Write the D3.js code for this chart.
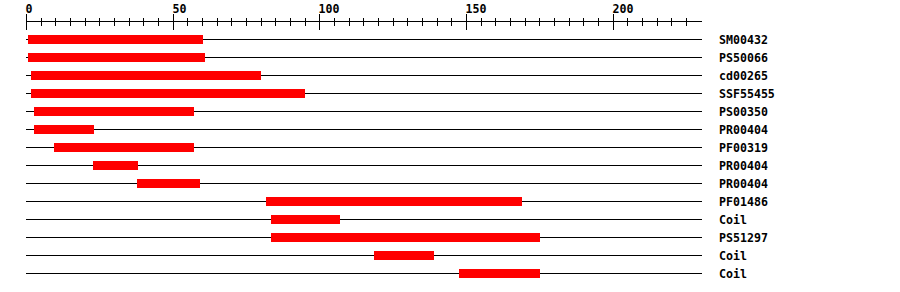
<!DOCTYPE html>
<html>
<head>
<meta charset="utf-8">
<script src="https://cdn.jsdelivr.net/npm/d3@7/dist/d3.min.js"></script>
<style>
  html, body { margin: 0; padding: 0; background: #fff; }
  svg { display: block; }
  text { font-family: "DejaVu Sans Mono", "Liberation Mono", monospace; font-weight: bold; font-size: 11.6px; fill: #000; }
</style>
</head>
<body>
<svg id="chart" width="900" height="292"></svg>
<script>
const labels = ["SM00432","PS50066","cd00265","SSF55455","PS00350","PR00404","PF00319","PR00404","PR00404","PF01486","Coil","PS51297","Coil","Coil"];
const starts = [1, 1, 2, 2, 3, 3, 10, 23, 38, 82, 84, 84, 119, 148];
const ends   = [60, 61, 80, 95, 57, 23, 57, 38, 59, 169, 107, 175, 139, 175];
const seqLength = 230;
const majorTicks = [0, 50, 100, 150, 200];
const minorStep = 5;

const svg = d3.select("#chart");
const x = d3.scaleLinear().domain([0, seqLength]).range([26.6, 701]);
const rowIndex = d3.range(labels.length);
const y = d3.scalePoint().domain(rowIndex).range([39.5, 273.5]);

// axis
const axisY = 21.5;
const g = svg.append("g").attr("shape-rendering", "crispEdges");
g.append("line").attr("x1", x(0) - 0.5).attr("x2", x(seqLength) + 0.5)
  .attr("y1", axisY).attr("y2", axisY).attr("stroke", "#000").attr("stroke-width", 1);
const minor = d3.range(0, seqLength, minorStep).filter(v => !majorTicks.includes(v));
g.selectAll("line.minor").data(minor).join("line").attr("class", "minor")
  .attr("x1", d => Math.floor(x(d)) + 0.5).attr("x2", d => Math.floor(x(d)) + 0.5)
  .attr("y1", axisY - 4).attr("y2", axisY + 4).attr("stroke", "#000");
g.selectAll("line.major").data(majorTicks).join("line").attr("class", "major")
  .attr("x1", d => Math.floor(x(d)) + 0.5).attr("x2", d => Math.floor(x(d)) + 0.5)
  .attr("y1", axisY - 8).attr("y2", axisY + 8).attr("stroke", "#000");
svg.selectAll("text.tick").data(majorTicks).join("text").attr("class", "tick")
  .attr("x", d => Math.floor(x(d)) - 0.5).attr("y", 12.5).text(d => d);

// rows
const rows = svg.append("g").attr("shape-rendering", "crispEdges");
rows.selectAll("line.row").data(rowIndex).join("line").attr("class", "row")
  .attr("x1", x(0) - 0.5).attr("x2", x(seqLength) + 0.5)
  .attr("y1", i => y(i)).attr("y2", i => y(i)).attr("stroke", "#000");
rows.selectAll("rect").data(rowIndex).join("rect")
  .attr("x", i => x(starts[i] - 0.5))
  .attr("width", i => x(ends[i]) - x(starts[i] - 0.5))
  .attr("y", i => y(i) - 4.5).attr("height", 9)
  .attr("fill", "#ff0000");
svg.selectAll("text.lab").data(rowIndex).join("text").attr("class", "lab")
  .attr("x", 719).attr("y", i => y(i) + 4).text(i => labels[i]);
</script>
</body>
</html>
